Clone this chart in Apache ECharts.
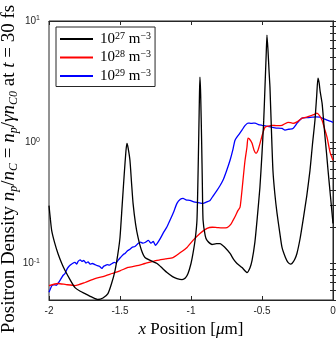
<!DOCTYPE html>
<html>
<head>
<meta charset="utf-8">
<script src="https://cdn.jsdelivr.net/npm/echarts@6/dist/echarts.min.js"></script>
<style>
  html, body { margin: 0; padding: 0; background: #fff; }
  #main { width: 336px; height: 338px; }
</style>
</head>
<body>
<div id="main"></div>
<script>
// positron density, n = 1e27 m^-3  [x (um), density]
var dens27 = [[-2.000,0.30],[-1.990,0.23],[-1.981,0.187],[-1.960,0.148],[-1.937,0.121],[-1.910,0.10],[-1.887,0.0875],[-1.850,0.073],[-1.817,0.0633],[-1.780,0.059],[-1.746,0.0565],[-1.700,0.053],[-1.655,0.0505],[-1.620,0.052],[-1.585,0.0565],[-1.560,0.068],[-1.535,0.0875],[-1.515,0.12],[-1.500,0.164],[-1.485,0.30],[-1.470,0.55],[-1.458,0.85],[-1.451,0.98],[-1.443,0.90],[-1.430,0.71],[-1.418,0.45],[-1.408,0.313],[-1.390,0.21],[-1.373,0.164],[-1.350,0.13],[-1.324,0.112],[-1.280,0.105],[-1.239,0.100],[-1.200,0.091],[-1.169,0.0843],[-1.130,0.078],[-1.099,0.0752],[-1.063,0.0737],[-1.040,0.076],[-1.021,0.0827],[-1.000,0.10],[-0.986,0.121],[-0.970,0.16],[-0.958,0.227],[-0.951,0.50],[-0.945,1.2],[-0.940,2.6],[-0.937,3.44],[-0.932,2.5],[-0.925,1.0],[-0.920,0.45],[-0.915,0.227],[-0.900,0.17],[-0.887,0.155],[-0.852,0.1435],[-0.820,0.146],[-0.796,0.146],[-0.761,0.1356],[-0.725,0.121],[-0.700,0.108],[-0.676,0.100],[-0.641,0.0927],[-0.606,0.0843],[-0.585,0.092],[-0.570,0.106],[-0.550,0.15],[-0.535,0.227],[-0.515,0.42],[-0.500,0.81],[-0.488,1.5],[-0.479,2.85],[-0.470,5.5],[-0.465,7.66],[-0.458,5.8],[-0.450,3.8],[-0.444,2.85],[-0.433,1.2],[-0.423,0.587],[-0.410,0.38],[-0.394,0.259],[-0.375,0.18],[-0.359,0.1356],[-0.335,0.112],[-0.317,0.102],[-0.300,0.099],[-0.289,0.100],[-0.270,0.108],[-0.254,0.121],[-0.232,0.16],[-0.211,0.227],[-0.185,0.36],[-0.162,0.587],[-0.145,0.95],[-0.127,1.52],[-0.115,2.4],[-0.106,3.38],[-0.098,3.1],[-0.090,2.6],[-0.077,2.1],[-0.066,1.5],[-0.056,1.1],[-0.045,0.8],[-0.035,0.587],[-0.018,0.36],[0.000,0.214]];

// n = 1e28 m^-3
var dens28 = [[-2.000,0.0658],[-1.937,0.0684],[-1.880,0.067],[-1.817,0.0658],[-1.746,0.0697],[-1.676,0.0752],[-1.620,0.078],[-1.556,0.0827],[-1.500,0.087],[-1.444,0.0927],[-1.380,0.096],[-1.324,0.100],[-1.239,0.106],[-1.180,0.109],[-1.127,0.112],[-1.080,0.122],[-1.028,0.1356],[-0.986,0.155],[-0.937,0.177],[-0.887,0.195],[-0.850,0.199],[-0.817,0.198],[-0.780,0.197],[-0.746,0.198],[-0.720,0.21],[-0.704,0.227],[-0.685,0.25],[-0.669,0.274],[-0.655,0.29],[-0.645,0.36],[-0.634,0.485],[-0.620,0.70],[-0.606,0.91],[-0.599,1.08],[-0.590,1.07],[-0.580,1.03],[-0.570,0.98],[-0.556,0.86],[-0.542,0.81],[-0.528,0.86],[-0.514,0.98],[-0.495,1.18],[-0.479,1.33],[-0.455,1.36],[-0.430,1.38],[-0.395,1.37],[-0.359,1.38],[-0.317,1.46],[-0.300,1.45],[-0.282,1.43],[-0.250,1.48],[-0.218,1.58],[-0.180,1.62],[-0.148,1.67],[-0.130,1.70],[-0.113,1.74],[-0.095,1.66],[-0.077,1.52],[-0.060,1.30],[-0.042,1.10],[-0.021,0.83],[0.000,0.71]];

// n = 1e29 m^-3
var dens29 = [[-2.000,0.058],[-1.990,0.062],[-1.979,0.0658],[-1.960,0.067],[-1.950,0.066],[-1.937,0.0684],[-1.915,0.075],[-1.900,0.080],[-1.887,0.0827],[-1.875,0.089],[-1.866,0.0927],[-1.850,0.097],[-1.835,0.100],[-1.817,0.102],[-1.805,0.099],[-1.795,0.104],[-1.780,0.107],[-1.768,0.104],[-1.755,0.106],[-1.740,0.101],[-1.725,0.103],[-1.710,0.099],[-1.695,0.100],[-1.676,0.098],[-1.660,0.096],[-1.645,0.095],[-1.627,0.091],[-1.615,0.095],[-1.606,0.096],[-1.590,0.098],[-1.575,0.097],[-1.556,0.100],[-1.540,0.102],[-1.528,0.101],[-1.514,0.106],[-1.500,0.111],[-1.488,0.115],[-1.475,0.119],[-1.465,0.121],[-1.445,0.128],[-1.430,0.131],[-1.415,0.136],[-1.395,0.138],[-1.373,0.146],[-1.355,0.150],[-1.340,0.147],[-1.324,0.149],[-1.300,0.155],[-1.282,0.147],[-1.266,0.152],[-1.250,0.141],[-1.239,0.146],[-1.220,0.158],[-1.197,0.177],[-1.170,0.20],[-1.148,0.227],[-1.120,0.27],[-1.099,0.313],[-1.075,0.338],[-1.056,0.344],[-1.035,0.335],[-1.007,0.331],[-0.980,0.322],[-0.950,0.318],[-0.915,0.313],[-0.890,0.322],[-0.866,0.331],[-0.845,0.36],[-0.817,0.401],[-0.795,0.44],[-0.775,0.485],[-0.750,0.58],[-0.725,0.71],[-0.705,0.87],[-0.690,1.04],[-0.665,1.15],[-0.641,1.26],[-0.620,1.37],[-0.599,1.44],[-0.575,1.43],[-0.549,1.44],[-0.525,1.40],[-0.500,1.38],[-0.470,1.36],[-0.430,1.33],[-0.400,1.31],[-0.359,1.30],[-0.338,1.26],[-0.310,1.28],[-0.282,1.30],[-0.250,1.45],[-0.218,1.58],[-0.180,1.60],[-0.148,1.61],[-0.120,1.62],[-0.092,1.61],[-0.065,1.56],[-0.042,1.52],[0.000,1.46]];

var seriesNames = ['27', '28', '29'];
var seriesColors = ['#000000', '#ff0000', '#0000ff'];
var yMajor = [0.1, 1, 10];

// log minor ticks 2..9 x decade
var yTicks = [];
[0.01, 0.1, 1].forEach(function (d) {
    for (var k = 1; k <= 9; k++) {
        var v = +(k * d).toPrecision(3);
        if (v >= 0.05 && v <= 10) yTicks.push(v);
    }
});
yTicks.push(10);

var axisColor = '#262626';
var serif = '"Liberation Serif", "DejaVu Serif", serif';
var sans = '"Liberation Sans", "DejaVu Sans", sans-serif';

var myChart = echarts.init(document.getElementById('main'));

var option = {
    animation: false,
    backgroundColor: '#fff',
    grid: {
        left: 49, right: 3, top: 21, bottom: 38,
        show: true, borderColor: axisColor, borderWidth: 1,
        outerBoundsMode: 'none'
    },
    // y axis title, rotated, as in the figure
    graphic: [{
        type: 'text',
        x: 9, y: 169,
        rotation: Math.PI / 2,
        style: {
            text: '{r|Positron Density }{i|n}{sub|p}{r|/}{i|n}{sub|C}{r| = }{i|n}{sub|p}{r|/}{i|γn}{sub|C0}{r| at }{i|t}{r| = 30 fs}',
            align: 'center',
            verticalAlign: 'middle',
            rich: {
                r: { fontFamily: serif, fontSize: 19, fill: '#000', lineHeight: 22 },
                i: { fontFamily: serif, fontSize: 19, fill: '#000', fontStyle: 'italic', lineHeight: 22 },
                sub: { fontFamily: serif, fontSize: 12, fill: '#000', fontStyle: 'italic', verticalAlign: 'bottom', lineHeight: 12 }
            }
        }
    }],
    legend: {
        left: 56, top: 27,
        orient: 'vertical',
        backgroundColor: '#fff',
        borderColor: axisColor,
        borderWidth: 1,
        padding: [4, 4, 3, 4],
        itemGap: 3,
        itemWidth: 33,
        itemHeight: 2,
        icon: 'rect',
        data: seriesNames.map(function (s) { return '10^' + s; }),
        formatter: function (name) {
            return '{b|10}{s|' + name.slice(3) + '}{b| m}{s|−3}';
        },
        textStyle: {
            padding: [0, 0, 0, 2],
            rich: {
                b: { fontFamily: serif, fontSize: 15, color: '#000', lineHeight: 16 },
                s: { fontFamily: serif, fontSize: 10, color: '#000', verticalAlign: 'top', lineHeight: 10 }
            }
        }
    },
    xAxis: [{
        type: 'value', min: -2, max: 0, interval: 0.5,
        position: 'bottom',
        name: '{i|x}{r| Position [}{i|μ}{r|m]}',
        nameLocation: 'middle', nameGap: 19,
        nameTextStyle: {
            rich: {
                r: { fontFamily: serif, fontSize: 17, color: '#000' },
                i: { fontFamily: serif, fontSize: 17, color: '#000', fontStyle: 'italic' }
            }
        },
        axisLine: { show: true, lineStyle: { color: axisColor, width: 1 } },
        axisTick: { show: true, inside: true, length: 4, lineStyle: { color: axisColor } },
        axisLabel: { color: axisColor, fontFamily: sans, fontSize: 10, margin: 6 },
        splitLine: { show: false }
    }, {
        type: 'value', min: -2, max: 0, interval: 0.5,
        position: 'top',
        axisLine: { show: true, lineStyle: { color: axisColor, width: 1 } },
        axisTick: { show: true, inside: true, length: 4, lineStyle: { color: axisColor } },
        axisLabel: { show: false },
        splitLine: { show: false }
    }],
    yAxis: [{
        type: 'log', logBase: 10, min: 0.05, max: 10,
        position: 'left',
        axisLine: { show: true, lineStyle: { color: axisColor, width: 1 } },
        axisTick: { show: true, inside: true, length: 3, customValues: yTicks, lineStyle: { color: axisColor } },
        axisLabel: {
            customValues: yMajor,
            margin: 9,
            formatter: function (v) {
                var e = Math.round(Math.log10(v));
                return '{b|10}{s|' + e + '}';
            },
            rich: {
                b: { fontFamily: sans, fontSize: 10, color: axisColor, lineHeight: 12 },
                s: { fontFamily: sans, fontSize: 7, color: axisColor, verticalAlign: 'top', lineHeight: 7 }
            }
        },
        splitLine: { show: false }
    }, {
        type: 'log', logBase: 10, min: 0.05, max: 10,
        position: 'right',
        axisLine: { show: true, lineStyle: { color: axisColor, width: 1 } },
        axisTick: { show: true, inside: true, length: 3, customValues: yTicks, lineStyle: { color: axisColor } },
        axisLabel: { show: false },
        splitLine: { show: false }
    }],
    series: [dens27, dens28, dens29].map(function (d, i) {
        return {
            name: '10^' + seriesNames[i],
            type: 'line',
            data: d,
            showSymbol: false,
            symbol: 'none',
            smooth: 0.2,
            lineStyle: { color: seriesColors[i], width: 1.3 },
            itemStyle: { color: seriesColors[i] },
            z: 3 - i
        };
    })
};

myChart.setOption(option);
</script>
</body>
</html>
